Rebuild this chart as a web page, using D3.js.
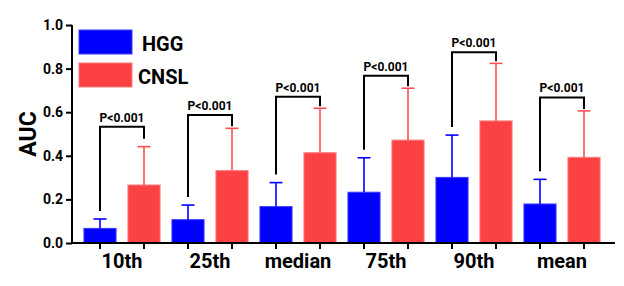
<!DOCTYPE html>
<html>
<head>
<meta charset="utf-8">
<script src="https://cdn.jsdelivr.net/npm/d3@7"></script>
<style>
  body { margin: 0; background: #fff; }
  svg text { font-family: Roboto, "DejaVu Sans", sans-serif; font-weight: bold; fill: #000; }
</style>
</head>
<body>
<div id="chart"></div>
<script>
// data
const categories = ["10th", "25th", "median", "75th", "90th", "mean"];
const groups = ["HGG", "CNSL"];
const hggMean = [0.067, 0.107, 0.167, 0.233, 0.301, 0.179];
const hggSD   = [0.043, 0.067, 0.110, 0.158, 0.194, 0.113];
const cnslMean = [0.266, 0.332, 0.414, 0.472, 0.560, 0.393];
const cnslSD   = [0.176, 0.194, 0.204, 0.238, 0.264, 0.213];
const pLabels = ["P<0.001", "P<0.001", "P<0.001", "P<0.001", "P<0.001", "P<0.001"];
const bracketTop = [0.533, 0.587, 0.671, 0.767, 0.875, 0.668];
const yTicks = [0, 0.2, 0.4, 0.6, 0.8, 1.0];

const colors = { HGG: "#0000ff", CNSL: "#fb4143" };
const edges = { HGG: "#3c3cff", CNSL: "#ff7b7d" };

const W = 624, H = 286;
const svg = d3.select("#chart").append("svg")
  .attr("width", W).attr("height", H);

// scales
const y = d3.scaleLinear().domain([0, 1]).range([243, 25]);
const x0 = d3.scaleBand().domain(categories).range([78, 606]).padding(0);
const x1 = d3.scaleBand().domain(groups).range([0, x0.bandwidth()])
  .paddingInner(0.27).paddingOuter(0.135);

const rows = [];
categories.forEach((c, i) => {
  rows.push({ cat: c, g: "HGG", v: hggMean[i], e: hggSD[i] });
  rows.push({ cat: c, g: "CNSL", v: cnslMean[i], e: cnslSD[i] });
});
const cx = d => x0(d.cat) + x1(d.g) + x1.bandwidth() / 2;

// bars
svg.append("g").selectAll("rect")
  .data(rows)
  .join("rect")
  .attr("x", d => x0(d.cat) + x1(d.g))
  .attr("y", d => y(d.v))
  .attr("width", x1.bandwidth())
  .attr("height", d => y(0) - y(d.v))
  .attr("fill", d => colors[d.g])
  .attr("stroke", d => edges[d.g])
  .attr("stroke-width", 1);

// error bars (upper only)
const eb = svg.append("g").selectAll("g")
  .data(rows)
  .join("g")
  .attr("stroke", d => d.g === "HGG" ? "#0000ff" : "#ff4f52")
  .attr("stroke-width", 1.6);
eb.append("line")
  .attr("x1", cx).attr("x2", cx)
  .attr("y1", d => y(d.v)).attr("y2", d => y(d.v + d.e));
eb.append("line")
  .attr("x1", d => cx(d) - 6.5).attr("x2", d => cx(d) + 6.5)
  .attr("y1", d => y(d.v + d.e)).attr("y2", d => y(d.v + d.e));

// significance brackets
const br = svg.append("g").selectAll("g")
  .data(categories)
  .join("g");
br.append("path")
  .attr("fill", "none")
  .attr("stroke", "#000")
  .attr("stroke-width", 2)
  .attr("d", (c, i) => {
    const xl = cx({ cat: c, g: "HGG" }), xr = cx({ cat: c, g: "CNSL" });
    const yt = y(bracketTop[i]);
    const yl = y(hggMean[i] + hggSD[i]) - 8;
    const yr = y(cnslMean[i] + cnslSD[i]) - (i === 0 ? 8 : 2);
    return `M${xl},${yl}V${yt}H${xr}V${yr}`;
  });
br.append("text")
  .attr("x", c => x0(c) + x0.bandwidth() / 2)
  .attr("y", (c, i) => y(bracketTop[i]) - 5)
  .attr("text-anchor", "middle")
  .style("font-size", "12px")
  .text((c, i) => pLabels[i]);

// y axis
const yAxis = svg.append("g")
  .attr("transform", "translate(72,0)")
  .call(d3.axisLeft(y).tickValues(yTicks).tickFormat(d3.format(".1f")).tickSize(6).tickPadding(3));
yAxis.select(".domain").attr("stroke-width", 2).attr("d", `M0,${y(1)}V${y(0)}`);
yAxis.selectAll(".tick line").attr("stroke-width", 2);
yAxis.selectAll(".tick text").style("font-size", "14px");

// x axis
const xAxis = svg.append("g").attr("transform", `translate(0,${y(0)})`);
xAxis.append("line")
  .attr("x1", 71).attr("x2", 615)
  .attr("stroke", "#000").attr("stroke-width", 2);
xAxis.selectAll(".xt")
  .data(rows)
  .join("line")
  .attr("class", "xt")
  .attr("x1", cx).attr("x2", cx)
  .attr("y1", 0).attr("y2", 6)
  .attr("stroke", "#000").attr("stroke-width", 2);
xAxis.selectAll(".xl")
  .data(categories)
  .join("text")
  .attr("class", "xl")
  .attr("x", c => x0(c) + x0.bandwidth() / 2)
  .attr("y", 25)
  .attr("text-anchor", "middle")
  .style("font-size", "20px")
  .text(c => c);

// y title
svg.append("text")
  .attr("transform", "translate(36,134) rotate(-90)")
  .attr("text-anchor", "middle")
  .style("font-size", "23px")
  .text("AUC");

// legend
const lg = svg.append("g").selectAll("g")
  .data(groups)
  .join("g")
  .attr("transform", (g, i) => `translate(79,${30 + i * 33})`);
lg.append("rect")
  .attr("width", 53).attr("height", 24)
  .attr("fill", g => colors[g])
  .attr("stroke", g => edges[g]);
lg.append("text")
  .attr("x", (g, i) => i === 0 ? 63 : 59)
  .attr("y", 21)
  .style("font-size", "20px")
  .text(g => g);
</script>
</body>
</html>
